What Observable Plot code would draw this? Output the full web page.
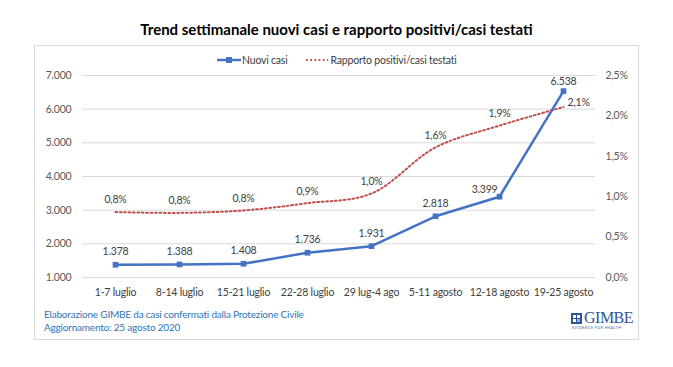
<!DOCTYPE html>
<html>
<head>
<meta charset="utf-8">
<script src="https://cdn.jsdelivr.net/npm/d3@7"></script>
<script src="https://cdn.jsdelivr.net/npm/@observablehq/plot@0.6"></script>
<style>
  html, body { margin: 0; padding: 0; background: #fff; }
  #wrap { position: relative; width: 673px; height: 367px; font-family: Lato, "Open Sans", sans-serif; overflow: hidden; }
  #title { position: absolute; left: 0; width: 673px; top: 20px; text-align: center; font-weight: bold; font-size: 15px; color: #000; }
  #frame { position: absolute; left: 34px; top: 45px; width: 605px; height: 295px; border: 1px solid #D9D9D9; box-sizing: border-box; }
  #legend { position: absolute; top: 54px; left: 216px; font-size: 10.5px; letter-spacing: -0.2px; color: #404040; display: flex; align-items: center; white-space: nowrap; }
  #legend span { display: inline-flex; align-items: center; }
  #chart { position: absolute; left: 0; top: 0; }
  #footer { position: absolute; left: 44px; top: 308px; font-size: 10px; letter-spacing: -0.2px; line-height: 12.5px; color: #2E75B6; }
  #logo { position: absolute; left: 571px; top: 311px; color: #2F5597; }
  #logo .g { font-family: "Liberation Serif", "DejaVu Serif", serif; font-size: 16px; line-height: 14px; letter-spacing: -0.5px; }
  #logo .s { font-size: 3.5px; letter-spacing: 0.55px; line-height: 4px; margin-top: 1px; margin-left: 1px; white-space: nowrap; }
</style>
</head>
<body>
<div id="wrap">
  <div id="frame"></div>
  <div id="title">Trend settimanale nuovi casi e rapporto positivi/casi testati</div>
  <div id="legend">
    <span><svg width="26" height="10"><line x1="1" y1="5" x2="25" y2="5" stroke="#4472C4" stroke-width="2.5"/><rect x="10" y="2" width="6" height="6" fill="#4472C4"/></svg><span id="lg1"></span></span>
    <span style="margin-left:17px"><svg width="26" height="10"><line x1="1" y1="5" x2="23" y2="5" stroke="#C0504D" stroke-width="2" stroke-dasharray="1.8,2.4"/></svg><span id="lg2"></span></span>
  </div>
  <div id="chart"></div>
  <div id="footer"><div id="f1"></div><div id="f2"></div></div>
  <div id="logo">
    <div style="display:flex;align-items:center"><svg width="11" height="11" style="margin-right:2px"><rect x="0" y="0" width="11" height="11" fill="#2F5597"/><rect x="2" y="2" width="3" height="3" fill="#fff"/><rect x="6" y="2" width="3" height="3" fill="#fff"/><rect x="2" y="6" width="3" height="3" fill="#fff"/><rect x="6" y="6" width="3" height="3" fill="#9DB3DA"/></svg><span class="g">GIMBE</span></div>
    <div class="s">EVIDENCE FOR HEALTH</div>
  </div>
</div>
<script>
// ---- data ----
const titleText = "Trend settimanale nuovi casi e rapporto positivi/casi testati";
const weeks = ["1-7 luglio", "8-14 luglio", "15-21 luglio", "22-28 luglio", "29 lug-4 ago", "5-11 agosto", "12-18 agosto", "19-25 agosto"];
const nuoviCasi = [1378, 1388, 1408, 1736, 1931, 2818, 3399, 6538];
const rapporto = [0.81, 0.80, 0.83, 0.92, 1.04, 1.61, 1.88, 2.11];      // line position (%)
const rapportoLabel = [0.8, 0.8, 0.8, 0.9, 1.0, 1.6, 1.9, 2.1];         // printed label (%)
const leftTicks = [1000, 2000, 3000, 4000, 5000, 6000, 7000];
const rightTicks = [0, 0.5, 1.0, 1.5, 2.0, 2.5];
const seriesNames = ["Nuovi casi", "Rapporto positivi/casi testati"];
const footerLines = ["Elaborazione GIMBE da casi confermati dalla Protezione Civile", "Aggiornamento: 25 agosto 2020"];

document.getElementById("title").textContent = titleText;
document.getElementById("lg1").textContent = seriesNames[0];
document.getElementById("lg2").textContent = seriesNames[1];
document.getElementById("f1").textContent = footerLines[0];
document.getElementById("f2").textContent = footerLines[1];

const it = d3.formatLocale({decimal: ",", thousands: ".", grouping: [3], currency: ["€", ""]});
const fInt = it.format(",d");
const fPct = it.format(".1f");

// right axis maps 0–2.5% onto the left domain 1000–7000
const yMin = 1000, yMax = 7000, rMax = 2.5;
const toY = r => yMin + r * (yMax - yMin) / rMax;
const fromY = y => (y - yMin) * rMax / (yMax - yMin);

const rows = weeks.map((w, i) => ({
  week: w, casi: nuoviCasi[i], rY: toY(rapporto[i]), rLab: fPct(rapportoLabel[i]) + "%", i
}));

const labelFont = {fontSize: 10.5, fill: "#404040"};

const chart = Plot.plot({
  width: 673, height: 367,
  marginLeft: 82, marginRight: 78, marginTop: 75, marginBottom: 90,
  style: {fontFamily: "Lato, 'Open Sans', sans-serif", fontSize: "10.5px", letterSpacing: "-0.2px", color: "#595959", background: "transparent"},
  x: {type: "point", domain: weeks, padding: 0.5, label: null},
  y: {domain: [yMin, yMax], label: null},
  marks: [
    Plot.gridY(leftTicks, {stroke: "#D9D9D9", strokeOpacity: 1, strokeWidth: 1}),
    Plot.axisY(leftTicks, {anchor: "left", tickSize: 0, tickPadding: 11, tickFormat: fInt, label: null, fontSize: 10.5, fill: "#595959"}),
    Plot.axisY(rightTicks.map(toY), {anchor: "right", tickSize: 0, tickPadding: 10, tickFormat: v => fPct(fromY(v)) + "%", label: null, fontSize: 10.5, fill: "#595959", textAnchor: "start"}),
    Plot.axisX(weeks, {anchor: "bottom", tickSize: 0, tickPadding: 11, label: null, fontSize: 10.5, fill: "#404040"}),
    Plot.line(rows, {x: "week", y: "rY", stroke: "#C0504D", strokeWidth: 2, strokeDasharray: "1.8,2.6", curve: "catmull-rom"}),
    Plot.line(rows, {x: "week", y: "casi", stroke: "#4472C4", strokeWidth: 2.5}),
    Plot.dot(rows, {x: "week", y: "casi", symbol: "square", r: 3.2, fill: "#4472C4", stroke: "none"}),
    // red labels
    Plot.text(rows.filter(d => d.i < 7), {x: "week", y: "rY", text: "rLab", dy: -12, ...labelFont}),
    Plot.text(rows.filter(d => d.i === 7), {x: "week", y: "rY", text: "rLab", dx: 4, dy: -4, textAnchor: "start", ...labelFont}),
    // blue labels
    Plot.text(rows.filter(d => d.i < 6), {x: "week", y: "casi", text: d => fInt(d.casi), dy: -13, ...labelFont}),
    Plot.text(rows.filter(d => d.i === 6), {x: "week", y: "casi", text: d => fInt(d.casi), dx: -2, dy: -7, textAnchor: "end", ...labelFont}),
    Plot.text(rows.filter(d => d.i === 7), {x: "week", y: "casi", text: d => fInt(d.casi), dy: -9, ...labelFont})
  ]
});
document.getElementById("chart").appendChild(chart);
</script>
</body>
</html>
